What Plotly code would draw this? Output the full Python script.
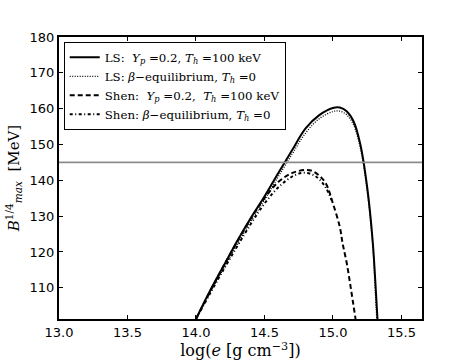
import plotly.graph_objects as go

# LS, Y_p = 0.2, T_h = 100 keV (solid)
ls_yp_x = [14.0, 14.1, 14.2, 14.3, 14.4, 14.5, 14.6, 14.7, 14.8, 14.9, 15.0, 15.05,
           15.1, 15.15, 15.2, 15.25, 15.29, 15.315, 15.325]
ls_yp_y = [101.3, 109.0, 116.0, 123.0, 129.5, 135.5, 142.0, 148.3, 154.5, 158.2, 160.2, 160.3,
           159.3, 156.5, 150.0, 138.0, 123.0, 108.0, 101.3]

# LS, beta-equilibrium, T_h = 0 (dotted)
ls_beta_x = [14.0, 14.1, 14.2, 14.3, 14.4, 14.5, 14.6, 14.7, 14.8, 14.9, 15.0, 15.05,
             15.1, 15.15, 15.2, 15.25, 15.29, 15.31, 15.32]
ls_beta_y = [101.3, 108.5, 115.3, 122.0, 128.5, 134.5, 141.0, 147.2, 153.2, 157.2, 159.2, 159.3,
             158.3, 155.5, 149.0, 137.0, 122.0, 108.0, 101.3]

# Shen, Y_p = 0.2, T_h = 100 keV (dashed)
shen_yp_x = [14.0, 14.2, 14.4, 14.5, 14.6, 14.7, 14.8, 14.85, 14.9, 14.95, 15.0, 15.05,
             15.07, 15.1, 15.13, 15.165]
shen_yp_y = [101.3, 116.0, 129.3, 135.0, 139.5, 142.0, 142.9, 142.6, 141.3, 139.0, 133.5, 127.0,
             122.5, 117.0, 110.0, 101.3]

# Shen, beta-equilibrium, T_h = 0 (dash-dot)
shen_beta_x = [14.0, 14.2, 14.4, 14.5, 14.6, 14.7, 14.78, 14.85, 14.9, 14.95, 14.99]
shen_beta_y = [101.3, 115.0, 127.8, 133.5, 138.0, 141.0, 142.1, 141.6, 140.3, 137.8, 134.5]

b_limit = 145

x_ticks = [13.0, 13.5, 14.0, 14.5, 15.0, 15.5]
y_ticks = [110, 120, 130, 140, 150, 160, 170, 180]

fig = go.Figure()
fig.add_trace(go.Scatter(
    x=ls_yp_x, y=ls_yp_y, mode="lines", line_shape="spline",
    name="LS:  <i>Y</i><sub><i>p</i></sub> =0.2, <i>T</i><sub><i>h</i></sub> =100 keV",
    line=dict(color="black", width=2)))
fig.add_trace(go.Scatter(
    x=ls_beta_x, y=ls_beta_y, mode="lines", line_shape="spline",
    name="LS: <i>β</i>\u2212equilibrium, <i>T</i><sub><i>h</i></sub> =0",
    line=dict(color="black", width=1.3, dash="1px,1.5px")))
fig.add_trace(go.Scatter(
    x=shen_yp_x, y=shen_yp_y, mode="lines", line_shape="spline",
    name="Shen:  <i>Y</i><sub><i>p</i></sub> =0.2,  <i>T</i><sub><i>h</i></sub> =100 keV",
    line=dict(color="black", width=2, dash="5px,3px")))
fig.add_trace(go.Scatter(
    x=shen_beta_x, y=shen_beta_y, mode="lines", line_shape="spline",
    name="Shen: <i>β</i>\u2212equilibrium, <i>T</i><sub><i>h</i></sub> =0",
    line=dict(color="black", width=2, dash="3px,2.5px,1px,2.5px")))

fig.add_hline(y=b_limit, line=dict(color="#8c8c8c", width=1.6))

axis_common = dict(
    showgrid=False, zeroline=False, showline=True, linecolor="black", linewidth=2,
    mirror="ticks", ticks="inside", ticklen=4, tickcolor="black", tickwidth=1,
    tickfont=dict(family="DejaVu Sans", size=13, color="black"), automargin=False,
)
fig.update_xaxes(range=[13.0, 15.65], tickvals=x_ticks,
                 ticktext=[f"{v:.1f}" for v in x_ticks],
                 title=dict(text="log(<i>e</i> [g cm<sup>\u22123</sup>])",
                            font=dict(family="DejaVu Serif", size=16, color="black"),
                            standoff=0),
                 **axis_common)
fig.update_yaxes(range=[101.3, 180], tickvals=y_ticks,
                 title=dict(text="<i>B</i><sup>1/4</sup><sub><i>max</i></sub>  [MeV]",
                            font=dict(family="DejaVu Serif", size=15, color="black"),
                            standoff=6),
                 **axis_common)

fig.update_layout(
    width=469, height=364,
    margin=dict(l=59, r=47, t=37, b=45, autoexpand=False),
    plot_bgcolor="white", paper_bgcolor="white",
    showlegend=True,
    legend=dict(x=0.013, y=0.983, xanchor="left", yanchor="top",
                bgcolor="white", bordercolor="black", borderwidth=1,
                font=dict(family="DejaVu Serif", size=11.8, color="black"),
                itemwidth=30, tracegroupgap=0),
)

# drop the page's default body margin so the figure sits at the window's corner
fig.write_html("out.html", config={"displayModeBar": False},
               post_script="document.body.style.margin='0';")
